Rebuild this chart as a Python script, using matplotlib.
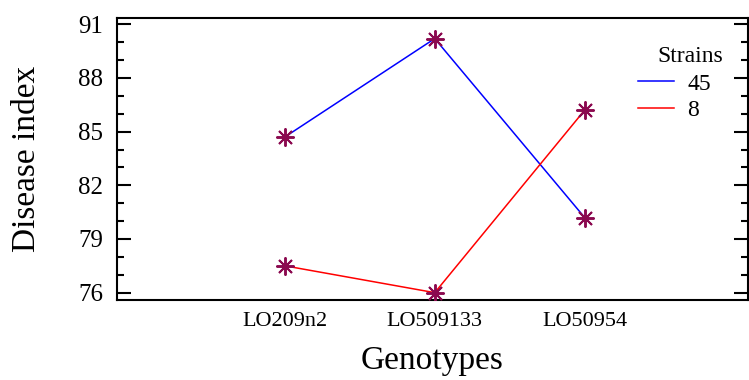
import matplotlib
matplotlib.use("Agg")
import matplotlib.pyplot as plt
from matplotlib.ticker import MultipleLocator

plt.rcParams['font.family'] = ['Liberation Serif', 'DejaVu Serif']

genotypes = ['LO209n2', 'LO509133', 'LO50954']
strains = ['45', '8']
strain_45 = [84.7, 90.2, 80.2]
strain_8 = [77.5, 76.0, 86.2]
line_colors = ['#0000ff', '#ff0000']
marker_color = '#8b0a50'
yticks = [76, 79, 82, 85, 88, 91]

fig = plt.figure(figsize=(7.49, 3.80), dpi=100)
ax = fig.add_axes([117/749, 80/380, (748 - 117)/749, (300 - 18)/380])

xs = range(len(genotypes))
for vals, lab, col in zip((strain_45, strain_8), strains, line_colors):
    ax.plot(xs, vals, color=col, lw=1.1, label=lab, zorder=2)
    ax.plot(xs, vals, ls='none', marker=(8, 2, 0), ms=13, mew=1.4,
            color=marker_color, zorder=3)

ax.set_xlim(-1.12, 3.09)
ax.set_ylim(75.59, 91.35)
ax.set_xticks(list(xs))
ax.set_xticklabels(genotypes, fontsize=16)
ax.set_yticks(yticks)
ax.set_yticklabels([str(t) for t in yticks], fontsize=18)
ax.yaxis.set_minor_locator(MultipleLocator(1))
ax.tick_params(axis='x', length=0, pad=9)
ax.tick_params(axis='y', which='major', direction='in', length=10, width=1.5,
               right=True, pad=10)
ax.tick_params(axis='y', which='minor', direction='in', length=5, width=1.5,
               right=True)
for sp in ax.spines.values():
    sp.set_linewidth(1.5)

ax.set_xlabel('Genotypes', fontsize=24, labelpad=10)
ax.set_ylabel('Disease index', fontsize=24, labelpad=26)

# legend title drawn separately, it sits right of the handles in the original
ax.text(0.857, 0.862, 'Strains', transform=ax.transAxes, fontsize=17,
        ha='left', va='center')
ax.legend(frameon=False, loc='upper left', bbox_to_anchor=(0.825, 0.805),
          fontsize=17, handlelength=1.55, handletextpad=0.55,
          labelspacing=0.2, borderpad=0, borderaxespad=0)

fig.savefig('out.png', dpi=100)
